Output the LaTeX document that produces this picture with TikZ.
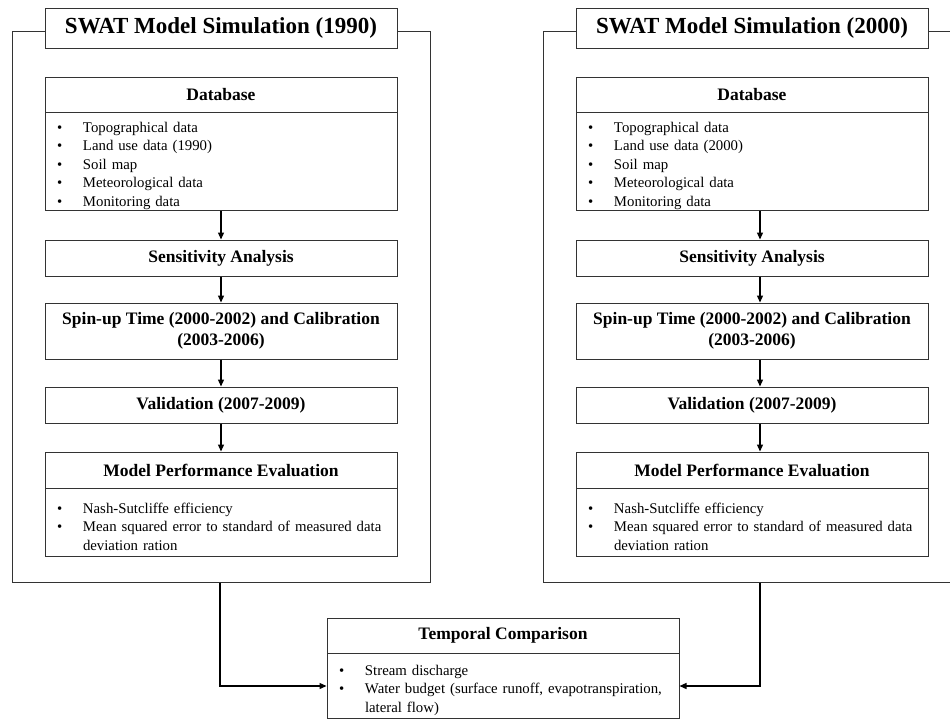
\documentclass[tikz,border=0pt]{standalone}
\usepackage{fontspec}
\setmainfont{Liberation Serif}
\usetikzlibrary{arrows.meta}
\newcommand{\linecol}{black!80}
\newcommand{\bitem}[1]{\par\hangindent=32pt\hangafter=1\noindent\makebox[32pt][l]{\hspace{6pt}\textbullet}#1\par}
\tikzset{
  simframe/.style={draw=\linecol, line width=1pt, minimum width=418pt, minimum height=551pt, inner sep=0pt},
  titlebox/.style={draw=\linecol, fill=white, line width=1pt, minimum width=352pt, minimum height=40pt, inner sep=0pt, font=\fontsize{23}{27}\selectfont\bfseries},
  headbox/.style={draw=\linecol, fill=white, line width=1pt, minimum width=352pt, inner sep=0pt, align=center, font=\fontsize{17.5}{21}\selectfont\bfseries},
  listbox/.style={draw=\linecol, line width=1pt, text width=340pt, inner xsep=6pt, inner ysep=0pt, anchor=north, font=\fontsize{14.8}{18.5}\selectfont},
  flow/.style={draw=black, line width=1.3pt, -{Triangle[length=7pt,width=6pt]}},
}

\begin{document}
\begin{tikzpicture}[x=1pt, y=-1pt]

    \fill[white] (0, 0) rectangle (950, 720);
    \useasboundingbox (0, 0) rectangle (950, 720);
    \clip (0, 0) rectangle (950, 720);

    % cadres des deux simulations
    \node[simframe] (sim1) at (221.5, 306.5) {};
    \node[simframe] (sim2) at (752, 306.5) {};

    % simulation 1990
    \node[titlebox] (title1) at (221, 28) {SWAT Model Simulation (1990)};
    \node[headbox, minimum height=35pt] (db1) at (221, 94.5) {Database};
    \node[listbox, minimum height=98pt] (dbl1) at (221, 112) {\bitem{Topographical data}\bitem{Land use data (1990)}\bitem{Soil map}\bitem{Meteorological data}\bitem{Monitoring data}};
    \node[headbox, minimum height=36pt] (sens1) at (221, 258) {Sensitivity Analysis};
    \node[headbox, minimum height=56pt] (spin1) at (221, 331) {Spin-up Time (2000-2002) and Calibration\\(2003-2006)};
    \node[headbox, minimum height=36pt] (val1) at (221, 405) {Validation (2007-2009)};
    \node[headbox, minimum height=36pt] (mpe1) at (221, 470) {Model Performance Evaluation};
    \node[listbox, minimum height=68pt] (mpel1) at (221, 488) {\bitem{Nash-Sutcliffe efficiency}\bitem{Mean squared error to standard of measured data deviation ration}};

    \draw[flow] (dbl1) -- (sens1);
    \draw[flow] (sens1) -- (spin1);
    \draw[flow] (spin1) -- (val1);
    \draw[flow] (val1) -- (mpe1);

    % simulation 2000
    \node[titlebox] (title2) at (752, 28) {SWAT Model Simulation (2000)};
    \node[headbox, minimum height=35pt] (db2) at (752, 94.5) {Database};
    \node[listbox, minimum height=98pt] (dbl2) at (752, 112) {\bitem{Topographical data}\bitem{Land use data (2000)}\bitem{Soil map}\bitem{Meteorological data}\bitem{Monitoring data}};
    \node[headbox, minimum height=36pt] (sens2) at (752, 258) {Sensitivity Analysis};
    \node[headbox, minimum height=56pt] (spin2) at (752, 331) {Spin-up Time (2000-2002) and Calibration\\(2003-2006)};
    \node[headbox, minimum height=36pt] (val2) at (752, 405) {Validation (2007-2009)};
    \node[headbox, minimum height=36pt] (mpe2) at (752, 470) {Model Performance Evaluation};
    \node[listbox, minimum height=68pt] (mpel2) at (752, 488) {\bitem{Nash-Sutcliffe efficiency}\bitem{Mean squared error to standard of measured data deviation ration}};

    \draw[flow] ([xshift=8pt]dbl2.south) -- ([xshift=8pt]sens2.north);
    \draw[flow] ([xshift=8pt]sens2.south) -- ([xshift=8pt]spin2.north);
    \draw[flow] ([xshift=8pt]spin2.south) -- ([xshift=8pt]val2.north);
    \draw[flow] ([xshift=8pt]val2.south) -- ([xshift=8pt]mpe2.north);

    % comparaison
    \node[headbox, minimum height=35pt] (cmp) at (503, 635.5) {Temporal Comparison};
    \node[listbox, minimum height=65pt] (cmpl) at (503, 653) {\bitem{Stream discharge}\bitem{Water budget (surface runoff, evapotranspiration, lateral flow)}};

    \draw[flow] ([xshift=-1.5pt]sim1.south) |- (cmpl.west);
    \draw[flow] ([xshift=8pt]sim2.south) |- (cmpl.east);

  \end{tikzpicture}
\end{document}
